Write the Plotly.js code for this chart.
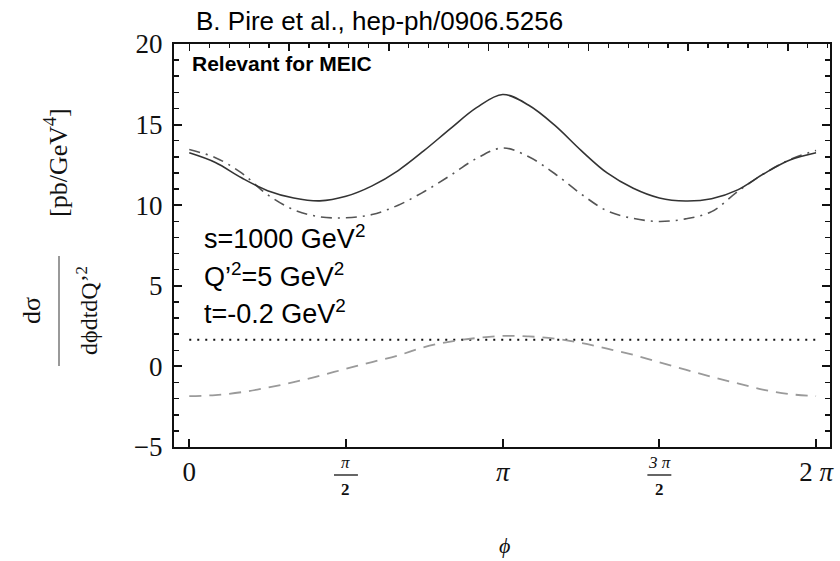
<!DOCTYPE html>
<html>
<head>
<meta charset="utf-8">
<script src="https://cdn.plot.ly/plotly-3.0.1.min.js"></script>
<style>html,body{margin:0;padding:0;background:#fff;}#chart{width:840px;height:561px;}</style>
</head>
<body>
<div id="chart"></div>
<script>
// phi sampling in degrees (0..360, step 15)
const phiDeg = [0,15,30,45,60,75,90,105,120,135,150,165,180,195,210,225,240,255,270,285,300,315,330,345,360];
// solid curve
const solidVals = [13.25,12.65,11.7,10.9,10.45,10.27,10.55,11.2,12.15,13.4,14.75,16.05,16.87,16.2,14.95,13.4,12.0,11.05,10.45,10.26,10.4,10.95,11.95,12.8,13.25];
// dash-dot curve
const dashDotVals = [13.45,12.95,12.0,10.65,9.72,9.28,9.22,9.42,10.0,10.85,11.85,12.9,13.55,13.0,11.95,10.7,9.65,9.18,8.99,9.15,9.6,10.85,11.95,12.83,13.4];
// dashed (gray) curve
const dashedVals = [-1.85,-1.78,-1.6,-1.32,-0.98,-0.58,-0.15,0.27,0.68,1.2,1.54,1.76,1.89,1.86,1.72,1.46,1.1,0.72,0.25,-0.2,-0.65,-1.05,-1.45,-1.72,-1.85];
// dotted horizontal line
const dottedVals = [1.65,1.65,1.65,1.65,1.65,1.65,1.65,1.65,1.65,1.65,1.65,1.65,1.65,1.65,1.65,1.65,1.65,1.65,1.65,1.65,1.65,1.65,1.65,1.65,1.65];
// bottom tick positions / labels
const xTickVals = [0, Math.PI, 2*Math.PI];
const xTickText = ['0', '<i>π</i>', '2 <i>π</i>'];
const xFracTickVals = [Math.PI/2, 3*Math.PI/2];
const xFracNum = ['π', '3 π'];

const phi = phiDeg.map(d => d*Math.PI/180);

const traces = [
  {x: phi, y: dottedVals, mode:'lines', line:{color:'#111', width:2, dash:'2px,6px'}, hoverinfo:'skip'},
  {x: phi, y: dashedVals, mode:'lines', line:{color:'#9a9a9a', width:1.8, dash:'12px,8px', shape:'spline'}, hoverinfo:'skip'},
  {x: phi, y: dashDotVals, mode:'lines', line:{color:'#555', width:1.6, dash:'11px,6px,2px,6px', shape:'spline'}, hoverinfo:'skip'},
  {x: phi, y: solidVals, mode:'lines', line:{color:'#333', width:1.6, shape:'spline'}, hoverinfo:'skip'},
  {x: [0], y: [0], xaxis:'x2', yaxis:'y2', mode:'markers', marker:{opacity:0}, hoverinfo:'skip'}
];

const L = 174, R = 830, T = 44, B = 447;
const W = 840, H = 561;
const px = v => (v - L)/(R - L);
const py = v => (B - v)/(B - T);

const serif = 'Liberation Serif, Times New Roman, serif';
const sans = 'Liberation Sans, Arial, sans-serif';

const annotations = [
  {xref:'paper', yref:'paper', x:px(194), y:py(21), xanchor:'left', yanchor:'middle', text:'B. Pire et al., hep-ph/0906.5256', showarrow:false, font:{family:sans, size:26, color:'#000'}},
  {xref:'paper', yref:'paper', x:px(190), y:py(63), xanchor:'left', yanchor:'middle', text:'<b>Relevant for MEIC</b>', showarrow:false, font:{family:sans, size:21, color:'#000'}},
  {xref:'paper', yref:'paper', x:px(202), y:py(237), xanchor:'left', yanchor:'middle', text:'s=1000 GeV<sup>2</sup>', showarrow:false, font:{family:sans, size:27, color:'#000'}},
  {xref:'paper', yref:'paper', x:px(202), y:py(275), xanchor:'left', yanchor:'middle', text:'Q’<sup>2</sup>=5 GeV<sup>2</sup>', showarrow:false, font:{family:sans, size:27, color:'#000'}},
  {xref:'paper', yref:'paper', x:px(202), y:py(312), xanchor:'left', yanchor:'middle', text:'t=-0.2 GeV<sup>2</sup>', showarrow:false, font:{family:sans, size:27, color:'#000'}},
  // y-axis title pieces
  {xref:'paper', yref:'paper', x:px(32), y:py(311), xanchor:'center', yanchor:'middle', textangle:-90, text:'dσ', showarrow:false, font:{family:serif, size:26, color:'#111'}},
  {xref:'paper', yref:'paper', x:px(87), y:py(311), xanchor:'center', yanchor:'middle', textangle:-90, text:'dϕdtdQ’<sup>2</sup>', showarrow:false, font:{family:serif, size:24, color:'#111'}},
  {xref:'paper', yref:'paper', x:px(56), y:py(163), xanchor:'center', yanchor:'middle', textangle:-90, text:'[pb/GeV<sup>4</sup>]', showarrow:false, font:{family:serif, size:26, color:'#111'}},
  // x-axis title
  {xref:'paper', yref:'paper', x:px(505), y:py(545), xanchor:'center', yanchor:'middle', text:'<i>ϕ</i>', showarrow:false, font:{family:serif, size:22, color:'#111'}}
];
const shapes = [
  {type:'line', xref:'paper', yref:'paper', x0:px(59), x1:px(59), y0:py(256), y1:py(366), line:{color:'#999', width:2}}
];
xFracTickVals.forEach((xv, i) => {
  annotations.push({xref:'x', yref:'paper', x:xv, y:py(462), xanchor:'center', yanchor:'middle', text:'<i>'+xFracNum[i]+'</i>', showarrow:false, font:{family:serif, size:17, color:'#111'}});
  annotations.push({xref:'x', yref:'paper', x:xv, y:py(489), xanchor:'center', yanchor:'middle', text:'<b>2</b>', showarrow:false, font:{family:serif, size:17, color:'#111'}});
  shapes.push({type:'line', xref:'x', yref:'paper', x0:xv-0.12, x1:xv+0.12, y0:py(475), y1:py(475), line:{color:'#333', width:1.5}});
});

const layout = {
  width: W, height: H,
  margin: {l:L, r:W-R, t:T, b:H-B, pad:0},
  paper_bgcolor:'#fff', plot_bgcolor:'#fff',
  showlegend:false,
  xaxis: {range:[-0.153, 6.423], tickmode:'array', tickvals:xTickVals, ticktext:xTickText, ticks:'inside', ticklen:8, tickwidth:2, tickcolor:'#111',
          minor:{tickmode:'array', tickvals:xFracTickVals, ticks:'inside', ticklen:8, tickwidth:2, tickcolor:'#111', showgrid:false},
          showline:true, linecolor:'#111', linewidth:2, showgrid:false, zeroline:false,
          tickfont:{family:serif, size:27, color:'#111'}, fixedrange:true},
  xaxis2: {overlaying:'x', side:'top', range:[-0.153, 6.423], tick0:0, dtick:1, ticks:'inside', ticklen:7, tickwidth:1.5, tickcolor:'#111',
           minor:{dtick:0.2, tick0:0, ticks:'inside', ticklen:4, tickwidth:1.2, tickcolor:'#111'},
           showticklabels:false, showline:true, linecolor:'#111', linewidth:2, showgrid:false, zeroline:false},
  yaxis: {range:[-5, 20], tick0:0, dtick:5, ticks:'inside', ticklen:8, tickwidth:2, tickcolor:'#111',
          minor:{dtick:1, tick0:0, ticks:'inside', ticklen:5, tickwidth:1.5, tickcolor:'#111'},
          showline:true, linecolor:'#111', linewidth:2, showgrid:false, zeroline:false,
          tickfont:{family:serif, size:27, color:'#111'}, ticklabelstandoff:4},
  yaxis2: {overlaying:'y', side:'right', range:[-5, 20], tick0:0, dtick:5, ticks:'inside', ticklen:8, tickwidth:2, tickcolor:'#111',
           minor:{dtick:1, tick0:0, ticks:'inside', ticklen:5, tickwidth:1.5, tickcolor:'#111'},
           showticklabels:false, showline:true, linecolor:'#111', linewidth:2, showgrid:false, zeroline:false},
  annotations: annotations,
  shapes: shapes
};

Plotly.newPlot('chart', traces, layout, {displayModeBar:false, staticPlot:true});
</script>
</body>
</html>
